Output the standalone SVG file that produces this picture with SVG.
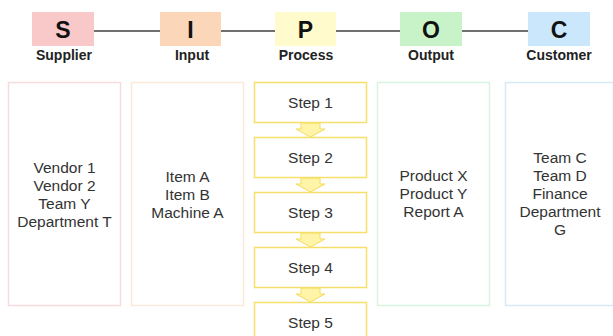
<svg xmlns="http://www.w3.org/2000/svg" width="613" height="336" viewBox="0 0 613 336">
<style>
.letter{font-family:"Liberation Sans",Arial,sans-serif;font-weight:bold;font-size:23px;fill:#111;text-anchor:middle}
.head{font-family:"Liberation Sans",Arial,sans-serif;font-weight:bold;font-size:14px;fill:#222;text-anchor:middle}
.body{font-family:"Liberation Sans",Arial,sans-serif;font-size:15.5px;fill:#333;text-anchor:middle}
.col{fill:#fff;stroke-width:1.5}
.step{fill:#fff;stroke:#f7e06a;stroke-width:1.5}
.arrow{fill:#fff4a8;stroke:#f5dc5a;stroke-width:1}
.link{stroke:#707070;stroke-width:2;fill:none}
</style>
<rect width="613" height="336" fill="#fff"/>
<g id="connectors">
<line class="link" x1="94" y1="31" x2="160" y2="31"/>
<line class="link" x1="221" y1="31" x2="275" y2="31"/>
<line class="link" x1="336" y1="31" x2="400" y2="31"/>
<line class="link" x1="462" y1="31" x2="528" y2="31"/>
<path class="arrow" d="M301,123 H320 V129 H325 L310.5,137 L296,129 H301 Z"/>
<path class="arrow" d="M301,178 H320 V184 H325 L310.5,192 L296,184 H301 Z"/>
<path class="arrow" d="M301,233 H320 V239 H325 L310.5,247 L296,239 H301 Z"/>
<path class="arrow" d="M301,288 H320 V294 H325 L310.5,302 L296,294 H301 Z"/>
</g>
<g id="S">
<rect x="32" y="12" width="62" height="34" fill="#f9c9c9"/>
<text class="letter" x="63" y="38">S</text>
<text class="head" x="64" y="60">Supplier</text>
</g>
<g id="I">
<rect x="160" y="12" width="61" height="34" fill="#fbd6b8"/>
<text class="letter" x="190.5" y="38">I</text>
<text class="head" x="192" y="60">Input</text>
</g>
<g id="P">
<rect x="275" y="12" width="61" height="34" fill="#fffbcc"/>
<text class="letter" x="305.5" y="38">P</text>
<text class="head" x="306" y="60">Process</text>
</g>
<g id="O">
<rect x="400" y="12" width="62" height="34" fill="#c8f3c8"/>
<text class="letter" x="431" y="38">O</text>
<text class="head" x="431" y="60">Output</text>
</g>
<g id="C">
<rect x="528" y="12" width="62" height="34" fill="#cae7fb"/>
<text class="letter" x="559" y="38">C</text>
<text class="head" x="559" y="60">Customer</text>
</g>
<g id="supplier-list">
<rect class="col" x="8.5" y="82.5" width="112" height="223" stroke="#f6dcdc"/>
<text class="body" x="64.5" y="173">Vendor 1</text>
<text class="body" x="64.5" y="191">Vendor 2</text>
<text class="body" x="64.5" y="209">Team Y</text>
<text class="body" x="64.5" y="227">Department T</text>
</g>
<g id="input-list">
<rect class="col" x="131.5" y="82.5" width="112" height="223" stroke="#fbe9da"/>
<text class="body" x="187.5" y="182">Item A</text>
<text class="body" x="187.5" y="200">Item B</text>
<text class="body" x="187.5" y="218">Machine A</text>
</g>
<g id="step1">
<rect class="step" x="254.5" y="82.5" width="112" height="40"/>
<text class="body" x="310.5" y="108">Step 1</text>
</g>
<g id="step2">
<rect class="step" x="254.5" y="137.5" width="112" height="40"/>
<text class="body" x="310.5" y="163">Step 2</text>
</g>
<g id="step3">
<rect class="step" x="254.5" y="192.5" width="112" height="40"/>
<text class="body" x="310.5" y="218">Step 3</text>
</g>
<g id="step4">
<rect class="step" x="254.5" y="247.5" width="112" height="40"/>
<text class="body" x="310.5" y="273">Step 4</text>
</g>
<g id="step5">
<rect class="step" x="254.5" y="302.5" width="112" height="40"/>
<text class="body" x="310.5" y="328">Step 5</text>
</g>
<g id="output-list">
<rect class="col" x="377.5" y="82.5" width="112" height="223" stroke="#d9f4de"/>
<text class="body" x="433.5" y="181">Product X</text>
<text class="body" x="433.5" y="199">Product Y</text>
<text class="body" x="433.5" y="217">Report A</text>
</g>
<g id="customer-list">
<rect class="col" x="505.5" y="82.5" width="108" height="223" stroke="#d6e9f6"/>
<text class="body" x="560" y="163">Team C</text>
<text class="body" x="560" y="181">Team D</text>
<text class="body" x="560" y="199">Finance</text>
<text class="body" x="560" y="217">Department</text>
<text class="body" x="560" y="235">G</text>
</g>
</svg>
